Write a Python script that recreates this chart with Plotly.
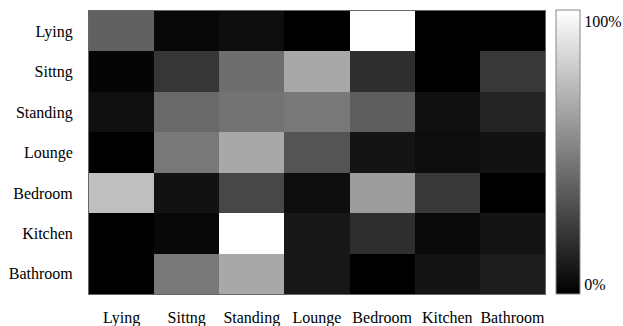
import plotly.graph_objects as go

labels = ["Lying", "Sittng", "Standing", "Lounge", "Bedroom", "Kitchen", "Bathroom"]

# rows (top to bottom) = y labels, columns = x labels; values 0..1
row_lying = [0.38, 0.03, 0.05, 0.00, 1.00, 0.00, 0.00]
row_sittng = [0.02, 0.21, 0.43, 0.66, 0.18, 0.00, 0.22]
row_standing = [0.06, 0.41, 0.45, 0.47, 0.37, 0.06, 0.14]
row_lounge = [0.00, 0.47, 0.66, 0.33, 0.08, 0.05, 0.07]
row_bedroom = [0.75, 0.07, 0.28, 0.05, 0.61, 0.22, 0.00]
row_kitchen = [0.00, 0.03, 1.00, 0.09, 0.18, 0.04, 0.08]
row_bathroom = [0.00, 0.47, 0.66, 0.09, 0.00, 0.08, 0.11]

z = [row_lying, row_sittng, row_standing, row_lounge, row_bedroom, row_kitchen, row_bathroom]

cbar_tickvals = [0.035, 0.96]
cbar_ticktext = ["0%", "100%"]

fig = go.Figure(go.Heatmap(
    z=z, x=labels, y=labels,
    zmin=0, zmax=1,
    colorscale=[[0, "black"], [1, "white"]],
    colorbar=dict(
        thickness=24, thicknessmode="pixels",
        len=284, lenmode="pixels",
        x=1.024, xanchor="left", xpad=0, xref="paper",
        y=1.004, yanchor="top", yref="paper",
        ypad=0,
        outlinecolor="#888888", outlinewidth=1,
        tickvals=cbar_tickvals, ticktext=cbar_ticktext,
        ticks="", ticklen=0,
        tickfont=dict(family="Liberation Serif", size=16, color="black"),
    ),
))

fig.update_layout(
    width=623, height=326,
    margin=dict(l=89, r=78, t=11, b=32, autoexpand=False),
    paper_bgcolor="white", plot_bgcolor="white",
    font=dict(family="Liberation Serif", size=16, color="black"),
    xaxis=dict(
        showgrid=False, zeroline=False,
        ticks="outside", ticklen=9, tickcolor="rgba(0,0,0,0)",
        showline=True, linecolor="#666666", linewidth=1, mirror=True,
        tickfont=dict(family="Liberation Serif", size=16),
    ),
    yaxis=dict(
        showgrid=False, zeroline=False, autorange="reversed",
        ticks="outside", ticklen=12, tickcolor="rgba(0,0,0,0)",
        showline=True, linecolor="#666666", linewidth=1, mirror=True,
        tickfont=dict(family="Liberation Serif", size=16),
    ),
)

fig.write_html("out.html")
